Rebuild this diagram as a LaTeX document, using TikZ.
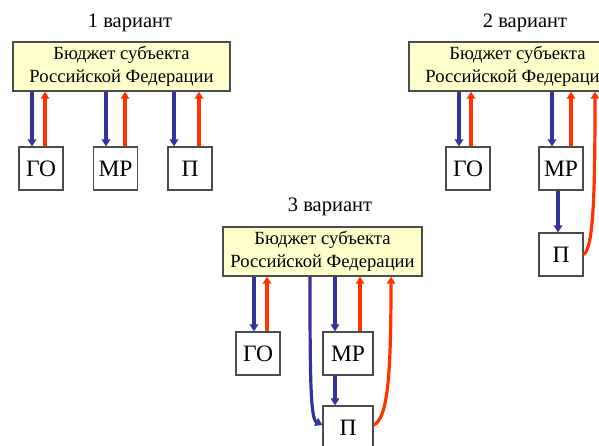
\documentclass[tikz,border=0pt]{standalone}
\usepackage{fontspec}
\setmainfont{Liberation Serif}
\usetikzlibrary{arrows.meta}
\definecolor{budgetfill}{RGB}{255,255,204}
\definecolor{downblue}{RGB}{51,51,153}
\definecolor{upred}{RGB}{255,51,0}
\begin{document}
\begin{tikzpicture}[x=1pt, y=-1pt,
	budget/.style={draw=black!70, fill=budgetfill, line width=1.4pt, minimum width=217pt, minimum height=49pt, inner sep=0pt, align=center, font=\fontsize{18.6}{23}\selectfont},
	unit/.style={draw=black!70, fill=white, line width=1.2pt, minimum width=44pt, minimum height=43pt, inner sep=0pt, font=\fontsize{23.5}{26}\selectfont},
	title/.style={font=\fontsize{20.5}{24}\selectfont},
	down/.style={draw=downblue, line width=3.2pt, -{Triangle[length=7pt,width=8.5pt]}},
	up/.style={draw=upred, line width=3.2pt, -{Triangle[length=7pt,width=8.5pt]}}]
	\useasboundingbox (0,0) rectangle (599,445);

	% 1 variant
	\node[title] (t1) at (130,23) {1 вариант};
	\node[budget] (b1) at (121.5,66.5) {Бюджет субъекта\\Российской Федерации};
	\node[unit] (go1) at (41,168.5) {ГО};
	\node[unit] (mr1) at (115.5,168.5) {МР};
	\node[unit] (p1) at (190,168.5) {П};
	\draw[down] ([xshift=-9]go1.north |- b1.south) -- ([xshift=-9]go1.north);
	\draw[up] ([xshift=4]go1.north) -- ([xshift=4]go1.north |- b1.south);
	\draw[down] ([xshift=-9.5]mr1.north |- b1.south) -- ([xshift=-9.5]mr1.north);
	\draw[up] ([xshift=9.5]mr1.north) -- ([xshift=9.5]mr1.north |- b1.south);
	\draw[down] ([xshift=-16]p1.north |- b1.south) -- ([xshift=-16]p1.north);
	\draw[up] ([xshift=9]p1.north) -- ([xshift=9]p1.north |- b1.south);

	% 2 variant
	\node[title] (t2) at (525,23) {2 вариант};
	\node[budget] (b2) at (517.5,66.5) {Бюджет субъекта\\Российской Федерации};
	\node[unit] (go2) at (468,168.5) {ГО};
	\node[unit] (mr2) at (561,168.5) {МР};
	\node[unit] (p2) at (561,254.5) {П};
	\draw[down] ([xshift=-9]go2.north |- b2.south) -- ([xshift=-9]go2.north);
	\draw[up] ([xshift=3]go2.north) -- ([xshift=3]go2.north |- b2.south);
	\draw[down] ([xshift=-9]mr2.north |- b2.south) -- ([xshift=-9]mr2.north);
	\draw[up] ([xshift=10]mr2.north) -- ([xshift=10]mr2.north |- b2.south);
	\draw[down] ([xshift=-3]mr2.south) -- ([xshift=-3]p2.north);
	\draw[up] (p2.east) .. controls +(10,-6) and +(0,100) .. ([xshift=34]mr2.north |- b2.south);

	% 3 variant
	\node[title] (t3) at (330,207) {3 вариант};
	\node[budget, minimum width=199pt] (b3) at (322.5,251.5) {Бюджет субъекта\\Российской Федерации};
	\node[unit] (go3) at (258,353.5) {ГО};
	\node[unit, minimum width=50pt] (mr3) at (348,353.5) {МР};
	\node[unit, minimum width=50pt, minimum height=44pt] (p3) at (348,428) {П};
	\draw[down] ([xshift=-4]go3.north |- b3.south) -- ([xshift=-4]go3.north);
	\draw[up] ([xshift=9]go3.north) -- ([xshift=9]go3.north |- b3.south);
	\draw[down] ([xshift=-13]mr3.north |- b3.south) -- ([xshift=-13]mr3.north);
	\draw[up] ([xshift=12]mr3.north) -- ([xshift=12]mr3.north |- b3.south);
	\draw[down] ([xshift=-13]mr3.south) -- ([xshift=-13]p3.north);
	\draw[down] ([xshift=-38]mr3.north |- b3.south) .. controls +(0,100) and +(-12,-6) .. ([yshift=3]p3.west);
	\draw[up] ([yshift=3]p3.east) .. controls +(14,-6) and +(0,100) .. ([xshift=43]mr3.north |- b3.south);
\end{tikzpicture}
\end{document}
